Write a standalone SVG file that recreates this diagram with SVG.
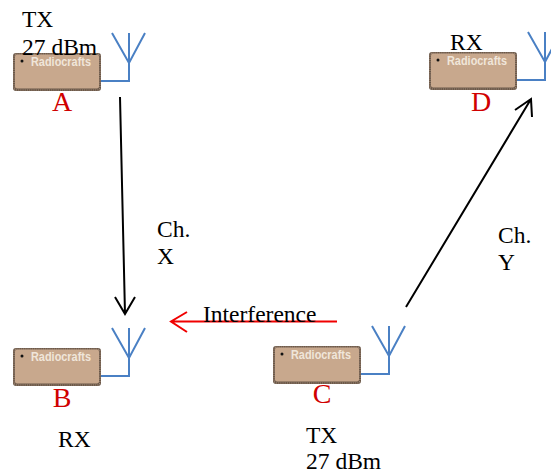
<svg xmlns="http://www.w3.org/2000/svg" xmlns:xlink="http://www.w3.org/1999/xlink" width="551" height="473" viewBox="0 0 551 473">
<style>
.t{font-family:"Liberation Serif","Times New Roman",serif;font-size:23.5px;fill:#000}
.lbl{font-family:"Liberation Serif","Times New Roman",serif;font-size:28px;fill:#D00000}
.brand{font-family:"Liberation Sans",Arial,sans-serif;font-size:12px;font-weight:bold;fill:#F0E6DA}
.ant{fill:none;stroke:#4A80C4;stroke-width:2}
.conn{fill:none;stroke:#000;stroke-width:2}
.intf{fill:none;stroke:#F00000;stroke-width:2}
</style>
<defs>
<g id="chip">
<rect x="0" y="0" width="88" height="38" rx="3" fill="#6A5848"/>
<rect x="1" y="1" width="86" height="36" rx="2.5" fill="none" stroke="#A89080" stroke-width="1.2" stroke-dasharray="1 1.2"/>
<rect x="2" y="1.5" width="84" height="34" rx="2" fill="#C8A88D"/>
<circle cx="9" cy="8" r="1.5" fill="#111"/>
<text class="brand" x="18" y="13" textLength="60" lengthAdjust="spacingAndGlyphs">Radiocrafts</text>
</g>
<path id="ant" class="ant" d="M88 28 H116 V-20 M99 -20 L116 10 L132 -20"/>
</defs>

<g id="connectors">
<path class="conn" d="M120 97 L125 314 M115 297 L125 314 L135 297"/>
<path class="conn" d="M406 307 L531 99 M515 110 L531 99 L532 117"/>
<path class="intf" d="M337 321.5 H171 M187 312 L171 321.5 L187 332"/>
<text class="t" x="203" y="322">Interference</text>
<text class="t" x="157" y="237">Ch.</text>
<text class="t" x="157" y="264">X</text>
<text class="t" x="498" y="243">Ch.</text>
<text class="t" x="498" y="270">Y</text>
</g>

<g id="nodeA">
<use xlink:href="#chip" x="13" y="53"/>
<use xlink:href="#ant" x="13" y="53"/>
<text class="t" x="22" y="27">TX</text>
<text class="t" x="22" y="55">27 dBm</text>
<text class="lbl" x="62" y="111" text-anchor="middle">A</text>
</g>

<g id="nodeB">
<use xlink:href="#chip" x="13" y="348"/>
<use xlink:href="#ant" x="13" y="348"/>
<text class="lbl" x="62" y="407" text-anchor="middle">B</text>
<text class="t" x="58" y="447">RX</text>
</g>

<g id="nodeC">
<use xlink:href="#chip" x="273" y="346"/>
<use xlink:href="#ant" x="273" y="346"/>
<text class="lbl" x="322" y="403" text-anchor="middle">C</text>
<text class="t" x="306" y="443">TX</text>
<text class="t" x="306" y="469">27 dBm</text>
</g>

<g id="nodeD">
<use xlink:href="#chip" x="429" y="52"/>
<use xlink:href="#ant" x="429" y="52"/>
<text class="t" x="450" y="50">RX</text>
<text class="lbl" x="481" y="111" text-anchor="middle">D</text>
</g>
</svg>
